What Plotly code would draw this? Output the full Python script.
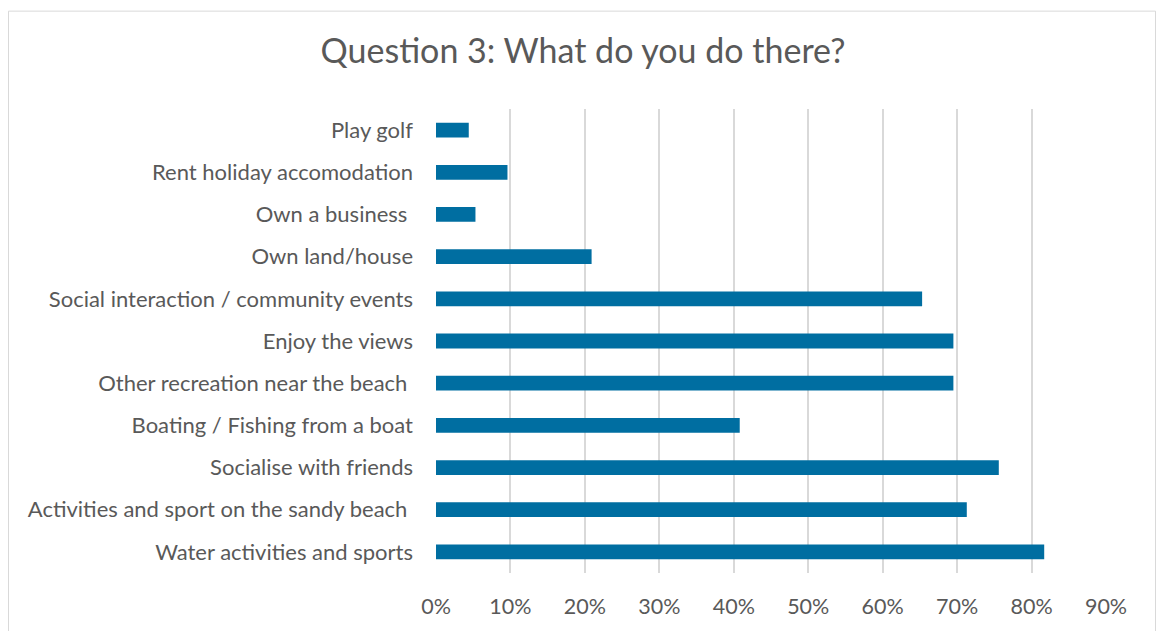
import plotly.graph_objects as go

# Survey responses, listed bottom-to-top as drawn on the category axis
activities = [
    "Water activities and sports",
    "Activities and sport on the sandy beach\u00a0",
    "Socialise with friends",
    "Boating / Fishing from a boat",
    "Other recreation near the beach\u00a0",
    "Enjoy the views",
    "Social interaction / community events",
    "Own land/house",
    "Own a business\u00a0",
    "Rent holiday accomodation",
    "Play golf",
]
shares = [0.817, 0.713, 0.756, 0.408, 0.695, 0.695, 0.653, 0.209, 0.053, 0.096, 0.044]

tick_values = [0, 0.1, 0.2, 0.3, 0.4, 0.5, 0.6, 0.7, 0.8, 0.9]
tick_labels = ["0%", "10%", "20%", "30%", "40%", "50%", "60%", "70%", "80%", "90%"]

W, H = 1156, 631
L, R, T, B = 436, 50, 109, 55
FONT = "Lato, 'Open Sans', sans-serif"
TEXT = "#595959"

fig = go.Figure(
    go.Bar(
        x=shares,
        y=activities,
        orientation="h",
        width=0.35,
        marker=dict(color="#006ea1", line=dict(width=0)),
        hovertemplate="%{y}: %{x:.0%}<extra></extra>",
    )
)

# Light outer frame around the whole chart
pw, ph = W - L - R, H - T - B
def px_x(p):
    return (p - L) / pw
def px_y(p):
    return (H - B - p) / ph
fig.add_shape(
    type="rect", xref="paper", yref="paper",
    x0=px_x(8.5), x1=px_x(1155.5), y0=px_y(640), y1=px_y(10.5),
    line=dict(color="#d9d9d9", width=1), fillcolor="rgba(0,0,0,0)", layer="below",
)

fig.update_layout(
    width=W, height=H,
    margin=dict(l=L, r=R, t=T, b=B),
    paper_bgcolor="white", plot_bgcolor="white",
    showlegend=False,
    title=dict(
        text="Question 3: What do you do there?",
        xref="container", x=583 / W, xanchor="center",
        yref="container", y=1 - 51 / H, yanchor="middle",
        font=dict(family=FONT, size=34, color=TEXT),
    ),
    xaxis=dict(
        range=[0, 0.9],
        tickvals=tick_values, ticktext=tick_labels,
        showgrid=True, gridcolor="#d9d9d9", gridwidth=1.5,
        zeroline=False, showline=False, ticks="",
        tickfont=dict(family=FONT, size=21.5, color=TEXT),
        ticklabelstandoff=18,
        fixedrange=True,
    ),
    yaxis=dict(
        categoryorder="array", categoryarray=activities,
        showgrid=False, zeroline=False, showline=False, ticks="",
        tickfont=dict(family=FONT, size=22, color=TEXT),
        ticklabelstandoff=22,
        range=[-0.5, len(activities) - 0.5],
        fixedrange=True,
    ),
)

fig.write_html("out.html")
